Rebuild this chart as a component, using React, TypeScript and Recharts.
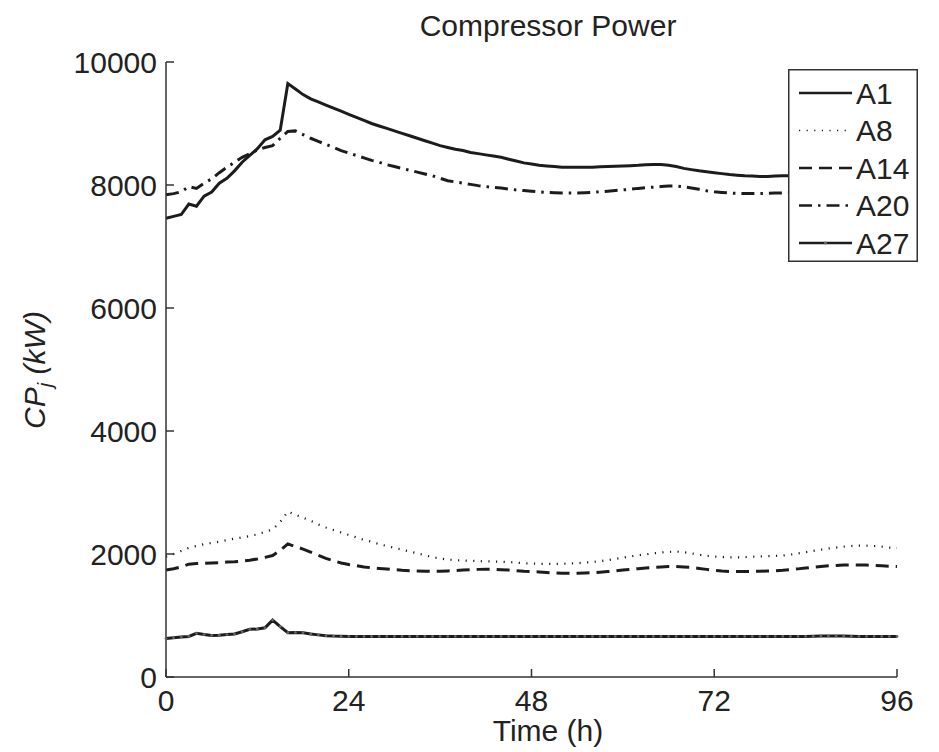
import { CartesianGrid, Line, LineChart, XAxis, YAxis } from 'recharts'

const hours = [
  0, 1, 2, 3, 4, 5, 6, 7, 8, 9, 10, 11, 12, 13, 14, 15, 16, 17, 18, 19, 20, 21, 22, 23, 24,
  25, 26, 27, 28, 29, 30, 31, 32, 33, 34, 35, 36, 37, 38, 39, 40, 41, 42, 43, 44, 45, 46, 47, 48,
  49, 50, 51, 52, 53, 54, 55, 56, 57, 58, 59, 60, 61, 62, 63, 64, 65, 66, 67, 68, 69, 70, 71, 72,
  73, 74, 75, 76, 77, 78, 79, 80, 81, 82, 83, 84, 85, 86, 87, 88, 89, 90, 91, 92, 93, 94, 95, 96,
]

const a1 = [
  7460, 7490, 7520, 7690, 7655, 7820, 7885, 8030, 8110, 8230, 8370, 8480, 8590, 8735, 8790, 8890,
  9650, 9560, 9470, 9400, 9350, 9300, 9250, 9200, 9150, 9100, 9050, 9000, 8960, 8920, 8880, 8840,
  8800, 8760, 8720, 8680, 8640, 8610, 8580, 8560, 8530, 8510, 8490, 8470, 8450, 8420, 8390, 8360,
  8340, 8320, 8310, 8300, 8290, 8290, 8290, 8290, 8290, 8295, 8300, 8305, 8310, 8315, 8320, 8330,
  8335, 8335, 8320, 8300, 8270, 8250, 8230, 8215, 8200, 8185, 8170, 8160, 8150, 8145, 8140, 8140,
  8145, 8150, 8150, 8150, 8150, 8150, 8150, 8150, 8150, 8150, 8150, 8150, 8150, 8150, 8150, 8150,
  8150,
]

const a8 = [
  1960, 2000, 2050, 2100, 2130, 2160, 2180, 2200, 2225, 2250, 2270, 2290, 2320, 2360, 2400, 2520,
  2690, 2640, 2590, 2540, 2480, 2430, 2390, 2350, 2310, 2270, 2230, 2200, 2160, 2130, 2100, 2070,
  2040, 2010, 1980, 1950, 1925, 1910, 1900, 1895, 1890, 1885, 1880, 1878, 1875, 1870, 1860, 1850,
  1845, 1840, 1838, 1838, 1840, 1845, 1850, 1860, 1870, 1885, 1900, 1920, 1940, 1960, 1980, 1995,
  2010, 2025, 2035, 2040, 2030, 2010, 1990, 1970, 1960, 1950, 1945, 1945, 1950, 1955, 1960, 1965,
  1970, 1975, 1990, 2010, 2030, 2050, 2070, 2090, 2105, 2120, 2130, 2135, 2135, 2130, 2120, 2105,
  2100,
]

const a14 = [
  1740, 1760, 1790, 1835, 1845, 1850, 1855, 1860, 1868, 1875, 1885, 1900, 1920, 1945, 1975, 2060,
  2165, 2120, 2080, 2030, 1980, 1930, 1890, 1855, 1830, 1810, 1790, 1775, 1765, 1755, 1745, 1735,
  1728, 1722, 1718, 1718, 1720, 1725, 1730, 1738, 1745, 1750, 1752, 1750, 1745, 1738, 1730, 1720,
  1713, 1708, 1700, 1692, 1686, 1685, 1686, 1690, 1696, 1705, 1715, 1725, 1738, 1750, 1762, 1772,
  1782, 1790, 1795, 1795, 1790, 1780, 1765, 1750, 1735, 1722, 1716, 1714, 1714, 1716, 1720, 1724,
  1728, 1735, 1745, 1758, 1772, 1786, 1798, 1808, 1815, 1820, 1822, 1822, 1820, 1815, 1808, 1802,
  1798,
]

const a20 = [
  7840, 7860, 7890, 7975, 7945, 8030, 8100, 8200, 8290, 8370, 8450, 8510, 8570, 8610, 8640, 8760,
  8870, 8880, 8820, 8760, 8710, 8660, 8610, 8560, 8520, 8480, 8440, 8400, 8370, 8330, 8300, 8270,
  8240, 8210, 8180, 8150, 8110, 8070, 8050, 8030, 8010, 7990, 7975, 7960, 7950, 7935, 7920, 7910,
  7900, 7890, 7880, 7875, 7870, 7870, 7870, 7875, 7880, 7890, 7900, 7910, 7920, 7930, 7945, 7955,
  7965, 7975, 7985, 7985, 7970, 7950, 7930, 7905, 7890, 7880, 7870, 7865, 7860, 7860, 7860, 7865,
  7870, 7870, 7875, 7880, 7880, 7880, 7880, 7880, 7880, 7880, 7880, 7880, 7880, 7880, 7880, 7880,
  7880,
]

const a27 = [
  625, 640, 650, 660, 710, 690, 675, 680, 690, 700, 735, 775, 780, 800, 925, 820, 720, 725, 720,
  700, 685, 672, 665, 662, 660, 660, 660, 660, 660, 660, 660, 660, 660, 660, 660, 660, 660, 660,
  660, 660, 660, 660, 660, 660, 660, 660, 660, 660, 660, 660, 660, 660, 660, 660, 660, 660, 660,
  660, 660, 660, 660, 660, 660, 660, 660, 660, 660, 660, 660, 660, 660, 660, 660, 660, 660, 660,
  660, 660, 660, 660, 660, 660, 660, 660, 660, 662, 665, 668, 668, 665, 662, 660, 660, 660, 660,
  660, 660,
]

const xTicks = [0, 24, 48, 72, 96]
const yTicks = [0, 2000, 4000, 6000, 8000, 10000]

const series = [
  { key: 'A1', values: a1 },
  { key: 'A8', values: a8 },
  { key: 'A14', values: a14 },
  { key: 'A20', values: a20 },
  { key: 'A27', values: a27 },
]

const ink = '#1c1c1c'
const axisInk = '#333'
const font = '"Liberation Sans", Arial, sans-serif'

// line look per series (MATLAB style: -, :, --, -., -.)
const look: Record<string, { width: number; legendWidth: number; dash?: string; dot?: boolean }> = {
  A1: { width: 3, legendWidth: 2.5 },
  A8: { width: 2.2, legendWidth: 1.6, dash: '1.2 6.4' },
  A14: { width: 3, legendWidth: 2.5, dash: '13 7' },
  A20: { width: 3, legendWidth: 2.5, dash: '13 6 2.5 6' },
  A27: { width: 3, legendWidth: 2.5, dot: true },
}

const data = hours.map((t, i) => {
  const row: Record<string, number> = { t }
  series.forEach((s) => (row[s.key] = s.values[i]))
  return row
})

const tickStyle = { fontSize: 30, fill: '#222', fontFamily: font }

function LegendBox() {
  return (
    <svg width={130} height={193} style={{ position: 'absolute', left: 788, top: 69 }}>
      <rect x={0.75} y={0.75} width={128.5} height={191.5} fill="#fff" stroke={axisInk} strokeWidth={1.5} />
      {series.map((s, i) => {
        const y = 24 + i * 37.5
        const l = look[s.key]
        return (
          <g key={s.key}>
            <line x1={11} x2={64} y1={y} y2={y} stroke={ink} strokeWidth={l.legendWidth} strokeDasharray={l.dash} />
            {l.dot && <circle cx={37.5} cy={y} r={1.6} fill="#666" />}
            <text x={68} y={y} dominantBaseline="central" fontSize={30} fontFamily={font} fill="#222">
              {s.key}
            </text>
          </g>
        )
      })}
    </svg>
  )
}

const labelStyle = {
  position: 'absolute' as const,
  fontFamily: font,
  fontSize: 30,
  lineHeight: '30px',
  color: '#222',
  whiteSpace: 'nowrap' as const,
}

export default function App() {
  return (
    <div style={{ position: 'absolute', left: 0, top: 0, width: 939, height: 752, background: '#fff' }}>
      <LineChart width={939} height={752} data={data} margin={{ top: 62, right: 42, bottom: 0, left: 0 }}>
        <CartesianGrid stroke="none" />
        <XAxis
          xAxisId="bottom"
          dataKey="t"
          type="number"
          domain={[0, 96]}
          ticks={xTicks}
          height={75}
          tick={tickStyle}
          tickSize={-8}
          tickMargin={21}
          stroke={axisInk}
          strokeWidth={1.5}
        />
        <XAxis
          xAxisId="top"
          orientation="top"
          dataKey="t"
          type="number"
          domain={[0, 96]}
          ticks={xTicks}
          height={0}
          tick={false}
          tickSize={-8}
          stroke={axisInk}
          strokeWidth={1.5}
        />
        <YAxis
          yAxisId="left"
          type="number"
          domain={[0, 10000]}
          ticks={yTicks}
          width={166}
          tick={tickStyle}
          tickSize={-8}
          tickMargin={17}
          stroke={axisInk}
          strokeWidth={1.5}
        />
        <YAxis
          yAxisId="right"
          orientation="right"
          type="number"
          domain={[0, 10000]}
          ticks={yTicks}
          width={0}
          tick={false}
          tickSize={-8}
          stroke={axisInk}
          strokeWidth={1.5}
        />
        {series.map((s) => {
          const l = look[s.key]
          return (
            <Line
              key={s.key}
              xAxisId="bottom"
              yAxisId="left"
              type="linear"
              dataKey={s.key}
              stroke={ink}
              strokeWidth={l.width}
              strokeDasharray={l.dash}
              dot={l.dot ? { r: 1.4, fill: '#666', stroke: 'none' } : false}
              isAnimationActive={false}
            />
          )
        })}
      </LineChart>
      <LegendBox />
      <div style={{ ...labelStyle, left: 548, top: 11, transform: 'translateX(-50%)' }}>Compressor Power</div>
      <div style={{ ...labelStyle, left: 548, top: 716, transform: 'translateX(-50%)' }}>Time (h)</div>
      <div
        style={{
          ...labelStyle,
          left: 40,
          top: 370,
          fontStyle: 'italic',
          transform: 'translate(-50%, -50%) rotate(-90deg)',
        }}
      >
        CP<sub style={{ fontSize: 20, verticalAlign: '-0.35em' }}>j</sub> (kW)
      </div>
    </div>
  )
}
